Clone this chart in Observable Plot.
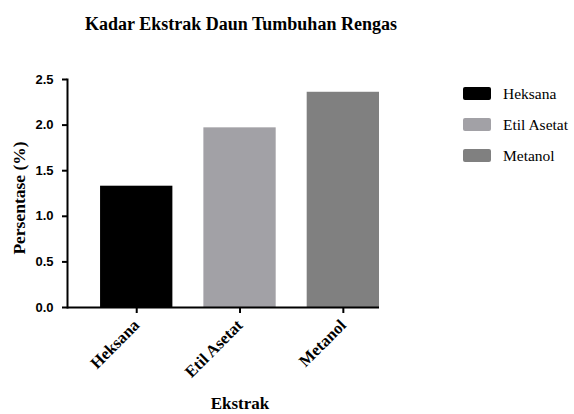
<!DOCTYPE html>
<html>
<head>
<meta charset="utf-8">
<script src="https://cdn.jsdelivr.net/npm/d3@7"></script>
<script src="https://cdn.jsdelivr.net/npm/@observablehq/plot@0.6"></script>
<style>
  html, body { margin: 0; padding: 0; background: #fff; }
  #wrap { position: relative; width: 574px; height: 414px; overflow: hidden; }
  #wrap svg { position: absolute; left: 0; top: 0; }
  .lbl { position: absolute; font-family: "Liberation Serif", "Times New Roman", serif; color: #000; white-space: nowrap; line-height: 1; }
  #title { left: 241px; top: 15px; transform: translateX(-50%); font-size: 18px; font-weight: bold; }
  #xlabel { left: 240px; top: 395px; transform: translateX(-50%); font-size: 17px; font-weight: bold; }
  #ylabel { left: 20px; top: 198px; transform: translate(-50%, -50%) rotate(-90deg); font-size: 17.5px; font-weight: bold; }
  #legend { position: absolute; left: 463px; top: 87px; }
  .item { display: flex; align-items: center; height: 13px; margin-bottom: 18px; }
  .sw { width: 28px; height: 13px; border-radius: 2px; margin-right: 12px; }
  .item span { font-family: "Liberation Serif", "Times New Roman", serif; font-size: 15.5px; }
</style>
</head>
<body>
<div id="wrap"></div>
<script>
const categories = ["Heksana", "Etil Asetat", "Metanol"];
const values = [1.33, 1.97, 2.36];
const colors = ["#000000", "#a2a1a6", "#808080"];
const yTicks = [0, 0.5, 1.0, 1.5, 2.0, 2.5];
const titleText = "Kadar Ekstrak Daun Tumbuhan Rengas";
const xLabelText = "Ekstrak";
const yLabelText = "Persentase (%)";

const data = categories.map((c, i) => ({name: c, value: values[i]}));

const chart = Plot.plot({
  width: 574,
  height: 414,
  marginLeft: 67,
  marginRight: 195,
  marginTop: 79,
  marginBottom: 107,
  style: {background: "transparent", color: "#000"},
  x: {domain: categories, paddingInner: 0.3, paddingOuter: 0.16, align: 1, round: false, label: null},
  y: {domain: [0, 2.5], label: null},
  color: {domain: categories, range: colors},
  marks: [
    Plot.barY(data, {x: "name", y: "value", fill: "name"}),
    Plot.frame({anchor: "left", stroke: "#000", strokeWidth: 2}),
    Plot.ruleY([0], {stroke: "#000", strokeWidth: 2}),
    Plot.axisY({
      ticks: yTicks, tickFormat: d3.format(".1f"), tickSize: 5, tickPadding: 9,
      label: null, strokeWidth: 2, stroke: "#000",
      fontFamily: "Liberation Sans, Arial, sans-serif", fontSize: 13, fontWeight: "bold", fill: "#000"
    }),
    Plot.axisX({
      tickRotate: -45, tickSize: 6, tickPadding: 9, label: null,
      strokeWidth: 2, stroke: "#000",
      fontFamily: "Liberation Serif, Times New Roman, serif", fontSize: 16.5, fontWeight: "bold", fill: "#000"
    })
  ]
});

const wrap = document.getElementById("wrap");
wrap.appendChild(chart);

function addLabel(id, text) {
  const d = document.createElement("div");
  d.className = "lbl"; d.id = id; d.textContent = text;
  wrap.appendChild(d);
}
addLabel("title", titleText);
addLabel("xlabel", xLabelText);
addLabel("ylabel", yLabelText);

const legend = document.createElement("div");
legend.id = "legend";
categories.forEach((c, i) => {
  const it = document.createElement("div");
  it.className = "item";
  const sw = document.createElement("div");
  sw.className = "sw"; sw.style.background = colors[i];
  const sp = document.createElement("span");
  sp.textContent = c;
  it.appendChild(sw); it.appendChild(sp);
  legend.appendChild(it);
});
wrap.appendChild(legend);
</script>
</body>
</html>
